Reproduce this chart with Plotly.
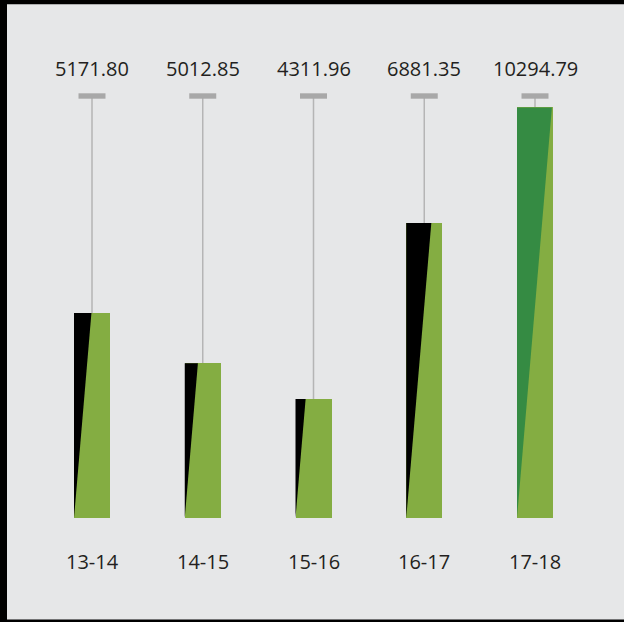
import plotly.graph_objects as go

# Season totals shown above each column, and the fill level of each column
# (percent of the full-height cap).
seasons = ["13-14", "14-15", "15-16", "16-17", "17-18"]
totals = [5171.80, 5012.85, 4311.96, 6881.35, 10294.79]
levels = [48.6, 36.7, 28.2, 69.9, 97.3]
cap_level = 100

# Styling
W, H = 624, 622
BG = "#e6e7e8"
GREEN = "#84ad42"
ACCENT = ["#000000", "#000000", "#000000", "#000000", "#358b43"]
CAP_COLOR = "#a8a8a8"
STEM_COLOR = "#b5b5b5"
TEXT = "#231f20"
FONT = "Open Sans"

PX_X = 110.75          # pixels per category step
PX_Y = 4.22            # pixels per level unit
X0_PX, BASE_PX = 92, 518
BAR_PX = 36
SPLIT = 0.085          # top width of the accent wedge per pixel of height

xr = [-X0_PX / PX_X, (W - X0_PX) / PX_X]
yr = [-(H - BASE_PX) / PX_Y, BASE_PX / PX_Y]
half = BAR_PX / 2 / PX_X

fig = go.Figure()

# Green columns
fig.add_trace(go.Bar(
    x=list(range(len(seasons))), y=levels, width=2 * half,
    marker=dict(color=GREEN, line=dict(width=0)), hoverinfo="skip",
))

# Accent wedge rising from the bottom-left corner of each column
for i, (lv, col) in enumerate(zip(levels, ACCENT)):
    left = i - half
    top_w = SPLIT * lv * PX_Y / PX_X
    fig.add_trace(go.Scatter(
        x=[left, left, left + top_w, left],
        y=[0, lv, lv, 0],
        mode="lines", fill="toself", fillcolor=col,
        line=dict(width=0, color=col), hoverinfo="skip",
    ))

shapes = []
annotations = []
cap_hw = 13.5 / PX_X
cap_hh = 2.7 / PX_Y
for i, (lv, tot, s) in enumerate(zip(levels, totals, seasons)):
    # stem from column top to the cap
    shapes.append(dict(type="line", xref="x", yref="y", x0=i, x1=i,
                       y0=lv, y1=cap_level, layer="below",
                       line=dict(color=STEM_COLOR, width=1.5)))
    # cap
    shapes.append(dict(type="rect", xref="x", yref="y",
                       x0=i - cap_hw, x1=i + cap_hw,
                       y0=cap_level - cap_hh, y1=cap_level + cap_hh,
                       fillcolor=CAP_COLOR, line=dict(width=0)))
    annotations.append(dict(x=i, y=(BASE_PX - 68) / PX_Y, xref="x", yref="y",
                            text=f"{tot:.2f}", showarrow=False,
                            xanchor="center", yanchor="middle",
                            font=dict(family=FONT, size=20, color=TEXT)))
    annotations.append(dict(x=i, y=(BASE_PX - 561) / PX_Y, xref="x", yref="y",
                            text=s, showarrow=False,
                            xanchor="center", yanchor="middle",
                            font=dict(family=FONT, size=20, color=TEXT)))

# frame on left, top and bottom edges
shapes += [
    dict(type="rect", xref="paper", yref="paper", x0=0, x1=7 / W, y0=0, y1=1,
         fillcolor="#000000", line=dict(width=0)),
    dict(type="rect", xref="paper", yref="paper", x0=0, x1=1,
         y0=1 - 4.3 / H, y1=1, fillcolor="#000000", line=dict(width=0)),
    dict(type="rect", xref="paper", yref="paper", x0=0, x1=1,
         y0=0, y1=2.5 / H, fillcolor="#000000", line=dict(width=0)),
]

fig.update_layout(
    width=W, height=H,
    margin=dict(l=0, r=0, t=0, b=0),
    paper_bgcolor=BG, plot_bgcolor=BG,
    showlegend=False,
    xaxis=dict(range=xr, visible=False, fixedrange=True),
    yaxis=dict(range=yr, visible=False, fixedrange=True),
    shapes=shapes, annotations=annotations,
    bargap=0,
)

fig.write_html("out.html", config={"displayModeBar": False})
